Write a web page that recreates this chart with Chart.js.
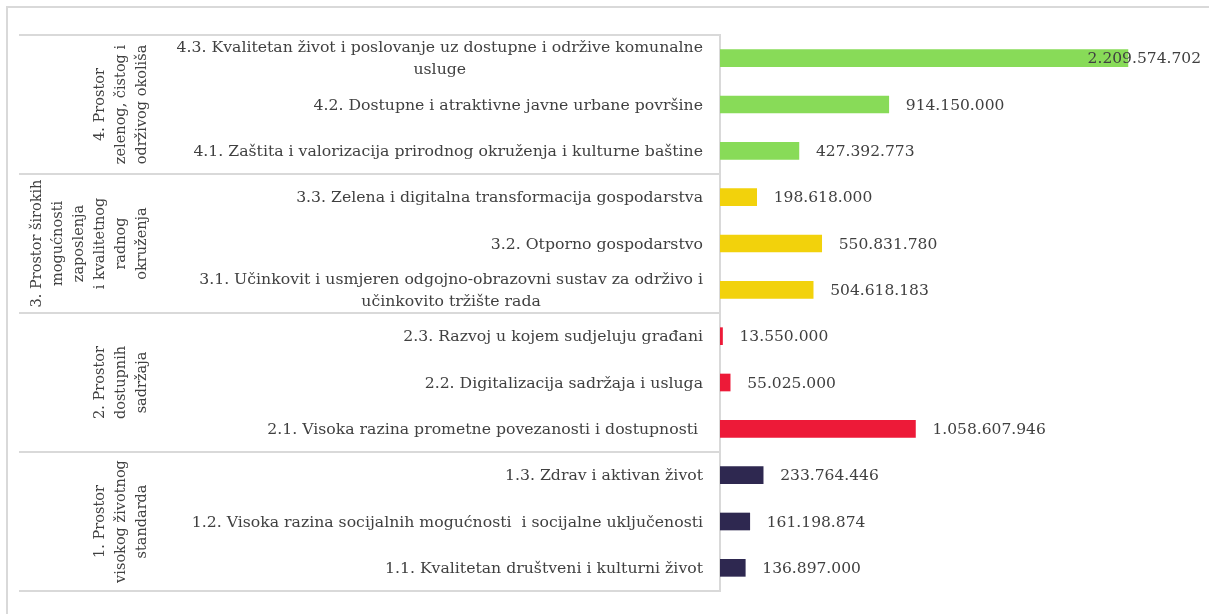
<!DOCTYPE html>
<html>
<head>
<meta charset="utf-8">
<script src="https://cdn.jsdelivr.net/npm/chart.js@4.4.1/dist/chart.umd.min.js"></script>
<style>
  html, body { margin: 0; padding: 0; background: #fff; }
  #chart { display: block; }
</style>
</head>
<body>
<canvas id="chart" width="1209" height="614"></canvas>
<script>
// categories, top to bottom (wrapped lines kept as arrays)
const categories = [
    ['4.3. Kvalitetan život i poslovanje uz dostupne i održive komunalne', 'usluge'],
    ['4.2. Dostupne i atraktivne javne urbane površine'],
    ['4.1. Zaštita i valorizacija prirodnog okruženja i kulturne baštine'],
    ['3.3. Zelena i digitalna transformacija gospodarstva'],
    ['3.2. Otporno gospodarstvo'],
    ['3.1. Učinkovit i usmjeren odgojno-obrazovni sustav za održivo i', 'učinkovito tržište rada'],
    ['2.3. Razvoj u kojem sudjeluju građani'],
    ['2.2. Digitalizacija sadržaja i usluga'],
    ['2.1. Visoka razina prometne povezanosti i dostupnosti '],
    ['1.3. Zdrav i aktivan život'],
    ['1.2. Visoka razina socijalnih mogućnosti  i socijalne uključenosti'],
    ['1.1. Kvalitetan društveni i kulturni život']
];
const values = [2209574702, 914150000, 427392773, 198618000, 550831780, 504618183,
                13550000, 55025000, 1058607946, 233764446, 161198874, 136897000];

// outer category level
const groupNames = [
    ['4. Prostor', 'zelenog, čistog i', 'održivog okoliša'],
    ['3. Prostor širokih', 'mogućnosti', 'zaposlenja', 'i kvalitetnog', 'radnog', 'okruženja'],
    ['2. Prostor', 'dostupnih', 'sadržaja'],
    ['1. Prostor', 'visokog životnog', 'standarda']
];
const groupSizes = [3, 3, 3, 3];

// styles
const groupColors = ['#88DB58', '#F2D20C', '#ED1A38', '#2E2850'];
const FONT = '"DejaVu Serif", serif';
const TEXT = '#404040';
const LINE = '#d9d9d9';

const barColors = [];
groupSizes.forEach((n, g) => { for (let i = 0; i < n; i++) barColors.push(groupColors[g]); });

function fmt(v) {
    return String(v).replace(/\B(?=(\d{3})+(?!\d))/g, '.');
}

// draws the frame, both category levels and the value labels
const tableFrame = {
    id: 'tableFrame',
    afterDraw(chart) {
        const ctx = chart.ctx;
        const y = chart.scales.y;
        const x = chart.scales.x;
        const area = chart.chartArea;
        ctx.save();

        // outer frame (top and left)
        ctx.strokeStyle = LINE;
        ctx.lineWidth = 2;
        ctx.beginPath();
        ctx.moveTo(7, 614); ctx.lineTo(7, 7); ctx.lineTo(1209, 7);
        ctx.stroke();

        // group borders
        const half = (y.getPixelForValue(1) - y.getPixelForValue(0)) / 2;
        const edges = [y.getPixelForValue(0) - half];
        let idx = 0;
        groupSizes.forEach(n => { idx += n; edges.push(y.getPixelForValue(idx - 1) + half); });
        ctx.beginPath();
        edges.forEach(e => { ctx.moveTo(19, e); ctx.lineTo(area.left, e); });
        ctx.stroke();

        // inner category labels
        ctx.fillStyle = TEXT;
        ctx.font = '15.7px ' + FONT;
        ctx.textBaseline = 'middle';
        ctx.textAlign = 'center';
        const lh = 22;
        categories.forEach((lines, i) => {
            const cy = y.getPixelForValue(i);
            const w = Math.max(...lines.map(l => ctx.measureText(l).width));
            const cx = 703 - w / 2;
            lines.forEach((l, j) => {
                ctx.fillText(l, cx, cy + (j - (lines.length - 1) / 2) * lh + 1);
            });
        });

        // outer group labels, rotated
        ctx.font = '14.5px ' + FONT;
        groupNames.forEach((lines, g) => {
            const cy = (edges[g] + edges[g + 1]) / 2;
            ctx.save();
            ctx.translate(0, cy);
            ctx.rotate(-Math.PI / 2);
            lines.forEach((l, j) => {
                const px = 142 - (lines.length - 1 - j) * 21;
                ctx.fillText(l, 0, px);
            });
            ctx.restore();
        });

        // value labels
        ctx.font = '15.5px ' + FONT;
        ctx.textAlign = 'left';
        values.forEach((v, i) => {
            const t = fmt(v);
            const w = ctx.measureText(t).width;
            let px = x.getPixelForValue(v) + 17;
            if (px + w > 1201) px = 1201 - w;
            ctx.fillText(t, px, y.getPixelForValue(i) + 1);
        });

        ctx.restore();
    }
};

new Chart(document.getElementById('chart'), {
    type: 'bar',
    data: {
        labels: categories.map(c => c.join(' ')),
        datasets: [{
            data: values,
            backgroundColor: barColors,
            barThickness: 17
        }]
    },
    options: {
        indexAxis: 'y',
        responsive: false,
        animation: false,
        layout: { padding: { left: 720, right: 9, top: 35, bottom: 23 } },
        plugins: {
            legend: { display: false },
            tooltip: { enabled: false }
        },
        scales: {
            x: { display: false, min: 0, max: 2600000000 },
            y: {
                ticks: { display: false },
                grid: { display: false },
                border: { color: LINE, width: 2 },
                afterFit(scale) { scale.width = 0; }
            }
        }
    },
    plugins: [tableFrame]
});
</script>
</body>
</html>
